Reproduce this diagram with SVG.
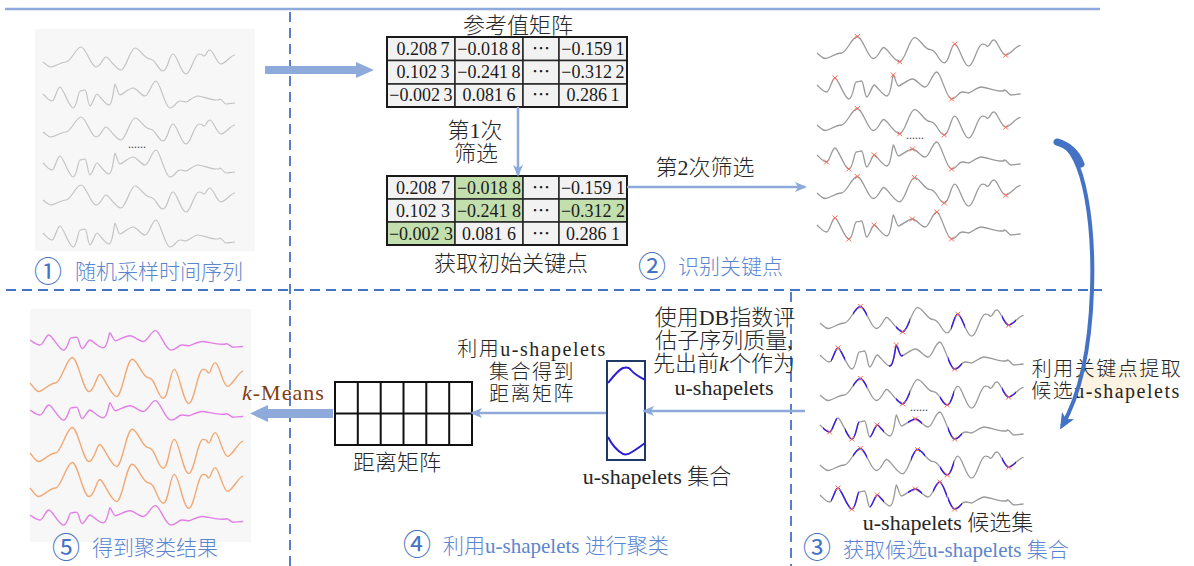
<svg xmlns="http://www.w3.org/2000/svg" xmlns:xlink="http://www.w3.org/1999/xlink" width="1194" height="566" viewBox="0 0 1194 566">
<style>
.t{font-family:"Liberation Serif","Noto Sans CJK SC",serif;fill:#262626;font-size:22px;font-weight:300}
.s{font-size:20px;letter-spacing:1.5px}
.c{text-anchor:middle}
.num{font-family:"Liberation Serif","Noto Sans CJK SC",serif;fill:#1a1a1a;font-size:18px;text-anchor:middle}
.bl{font-family:"Liberation Serif","Noto Sans CJK SC",serif;fill:#5a86d0;font-size:21px;font-weight:300}
.cn{font-family:"Noto Sans CJK SC","DejaVu Sans",sans-serif;fill:#4472c4;font-size:28px;text-anchor:middle}
.w1{fill:none;stroke:#c3c3c3;stroke-width:1.2}
.wg{fill:none;stroke:#9a9a9a;stroke-width:1.3}
.wp{fill:none;stroke:#3b1fe0;stroke-width:1.5}
.wv{fill:none;stroke:#e27fe6;stroke-width:1.4}
.wo{fill:none;stroke:#f2a874;stroke-width:1.4}
.mk{fill:none;stroke:#ff6a55;stroke-width:1}
.dash{fill:none;stroke:#4472c4;stroke-width:1.8;stroke-dasharray:10 6}
.ar{fill:none;stroke:#8eaadb;stroke-width:2.5;marker-end:url(#ah)}
.cell{fill:#f2f2f2;stroke:#262626;stroke-width:1.5}
.gr{fill:#c3dfae;stroke:#262626;stroke-width:1.5}
.dots{font-family:"Liberation Serif",serif;font-size:12px;fill:#444}
</style>
<defs>
<path id="wA" vector-effect="non-scaling-stroke" d="M0,0 C4,3 5,5 8,5 S18,0 23,0 S33,-15 38,-15 S48,5 53,5 S60,-5 63,-5 S73,8 78,8 S87,-14 92,-14 S101,-3 107,-3 S115,9 120,9 S126,-8 130,-8 S138,12 143,12 S151,-8 156,-8 S159,-6 161,-6 S164,-12 167,-12 S174,2 178,2 S188,-7 192,-7"/>
<path id="wB" vector-effect="non-scaling-stroke" d="M0,0 C3,3 6,7 9,7 S14,-7 17,-7 S26,14 30,14 S35,-3 37,-3 S40,-4 42,-4 S45,12 47,12 S52,0 54,0 S62,11 66,11 S71,-10 72,-10 S75,1 77,1 S86,-6 90,-6 S98,2 102,2 S109,-13 113,-13 S122,14 127,14 S133,7 137,7 S141,8 143,8 S151,2 155,2 S167,6 173,6 S175,5 177,5 S181,10 183,10 S189,9 192,9"/>
<path id="xm" d="M-2.5,-2.5L2.5,2.5M-2.5,2.5L2.5,-2.5"/>
<marker id="ah" markerWidth="12" markerHeight="10" refX="10" refY="5" orient="auto" markerUnits="userSpaceOnUse">
<path d="M0,0 L12,5 L0,10 L3,5 z" fill="#8eaadb"/>
</marker>
<marker id="ah2" markerWidth="16" markerHeight="14" refX="12" refY="7" orient="auto" markerUnits="userSpaceOnUse">
<path d="M0,0 L16,7 L0,14 L4,7 z" fill="#4472c4"/>
</marker>
<clipPath id="p1"><rect x="853" y="300" width="14" height="48"/><rect x="896" y="300" width="14" height="48"/><rect x="951" y="300" width="14" height="48"/><rect x="1002" y="300" width="14" height="48"/></clipPath>
<clipPath id="p2"><rect x="831" y="332" width="14" height="48"/><rect x="889" y="332" width="14" height="48"/><rect x="948" y="332" width="14" height="48"/></clipPath>
<clipPath id="p3"><rect x="853" y="372" width="14" height="48"/><rect x="896" y="372" width="14" height="48"/><rect x="940" y="372" width="14" height="48"/><rect x="1002" y="372" width="14" height="48"/></clipPath>
<clipPath id="p4"><rect x="823" y="402" width="14" height="48"/><rect x="845" y="402" width="14" height="48"/><rect x="870" y="402" width="14" height="48"/><rect x="908" y="402" width="14" height="48"/><rect x="948" y="402" width="14" height="48"/></clipPath>
<clipPath id="p5"><rect x="853" y="442" width="14" height="48"/><rect x="911" y="442" width="14" height="48"/><rect x="940" y="442" width="14" height="48"/><rect x="1002" y="442" width="14" height="48"/></clipPath>
<clipPath id="p6"><rect x="831" y="472" width="14" height="48"/><rect x="845" y="472" width="14" height="48"/><rect x="870" y="472" width="14" height="48"/><rect x="908" y="472" width="14" height="48"/><rect x="933" y="472" width="14" height="48"/><rect x="948" y="472" width="14" height="48"/></clipPath>
</defs>

<rect width="1194" height="566" fill="#ffffff"/>

<g id="frame">
<line x1="5" y1="9" x2="1100" y2="9" stroke="#8eaadb" stroke-width="2.5"/>
<line class="dash" x1="290" y1="12" x2="290" y2="566"/>
<line class="dash" x1="6" y1="290" x2="1102" y2="290"/>
<line class="dash" x1="791" y1="292" x2="791" y2="566"/>
</g>

<g id="panel1">
<rect x="35" y="29" width="220" height="222" fill="#f7f7f7"/>
<use href="#wA" class="w1" transform="translate(43,62)"/>
<use href="#wB" class="w1" transform="translate(43,94)"/>
<use href="#wA" class="w1" transform="translate(43,132)"/>
<use href="#wB" class="w1" transform="translate(43,163)"/>
<use href="#wA" class="w1" transform="translate(43,200)"/>
<use href="#wB" class="w1" transform="translate(43,233)"/>
<text class="dots" x="128" y="148">......</text>
<text class="cn" x="48" y="282">①</text>
<text class="bl" x="75" y="279">随机采样时间序列</text>
</g>

<g id="matrix1">
<text class="t c" x="518" y="33">参考值矩阵</text>
<rect class="cell" x="387" y="37" width="68" height="23.5"/><rect class="cell" x="455" y="37" width="68" height="23.5"/><rect class="cell" x="523" y="37" width="36" height="23.5"/><rect class="cell" x="559" y="37" width="68" height="23.5"/>
<rect class="cell" x="387" y="60.5" width="68" height="23.5"/><rect class="cell" x="455" y="60.5" width="68" height="23.5"/><rect class="cell" x="523" y="60.5" width="36" height="23.5"/><rect class="cell" x="559" y="60.5" width="68" height="23.5"/>
<rect class="cell" x="387" y="84" width="68" height="23" /><rect class="cell" x="455" y="84" width="68" height="23"/><rect class="cell" x="523" y="84" width="36" height="23"/><rect class="cell" x="559" y="84" width="68" height="23"/>
<rect x="387" y="37" width="240" height="70" fill="none" stroke="#1a1a1a" stroke-width="2"/>
<text class="num" x="423" y="55">0.208&#8201;7</text><text class="num" x="489" y="55">−0.018&#8201;8</text><text class="num" x="541" y="55">⋯</text><text class="num" x="593" y="55">−0.159&#8201;1</text>
<text class="num" x="423" y="78">0.102&#8201;3</text><text class="num" x="489" y="78">−0.241&#8201;8</text><text class="num" x="541" y="78">⋯</text><text class="num" x="593" y="78">−0.312&#8201;2</text>
<text class="num" x="421" y="101">−0.002&#8201;3</text><text class="num" x="489" y="101">0.081&#8201;6</text><text class="num" x="541" y="101">⋯</text><text class="num" x="593" y="101">0.286&#8201;1</text>
</g>

<g id="matrix2">
<rect class="cell" x="387" y="176" width="68" height="23"/><rect class="gr" x="455" y="176" width="68" height="23"/><rect class="cell" x="523" y="176" width="36" height="23"/><rect class="cell" x="559" y="176" width="68" height="23"/>
<rect class="cell" x="387" y="199" width="68" height="23"/><rect class="gr" x="455" y="199" width="68" height="23"/><rect class="cell" x="523" y="199" width="36" height="23"/><rect class="gr" x="559" y="199" width="68" height="23"/>
<rect class="gr" x="387" y="222" width="68" height="23"/><rect class="cell" x="455" y="222" width="68" height="23"/><rect class="cell" x="523" y="222" width="36" height="23"/><rect class="cell" x="559" y="222" width="68" height="23"/>
<rect x="387" y="176" width="240" height="69" fill="none" stroke="#1a1a1a" stroke-width="2"/>
<text class="num" x="423" y="194">0.208 7</text><text class="num" x="489" y="194">−0.018 8</text><text class="num" x="541" y="194">⋯</text><text class="num" x="593" y="194">−0.159 1</text>
<text class="num" x="423" y="217">0.102 3</text><text class="num" x="489" y="217">−0.241 8</text><text class="num" x="541" y="217">⋯</text><text class="num" x="593" y="217">−0.312 2</text>
<text class="num" x="421" y="240">−0.002 3</text><text class="num" x="489" y="240">0.081 6</text><text class="num" x="541" y="240">⋯</text><text class="num" x="593" y="240">0.286 1</text>
<text class="t c" x="511" y="271">获取初始关键点</text>
</g>

<g id="panel2">
<use href="#wA" class="wg" transform="translate(817,53) scale(1.06,1.1)"/>
<use href="#wB" class="wg" transform="translate(817,85) scale(1.06,1)"/>
<use href="#wA" class="wg" transform="translate(817,125) scale(1.06,1.1)"/>
<use href="#wB" class="wg" transform="translate(817,155) scale(1.06,1)"/>
<use href="#wA" class="wg" transform="translate(817,193) scale(1.06,1.1)"/>
<use href="#wB" class="wg" transform="translate(817,225) scale(1.06,1)"/>
<g class="mk">
<use href="#xm" x="857.3" y="36.5"/><use href="#xm" x="899.7" y="61.8"/><use href="#xm" x="954.8" y="44.2"/><use href="#xm" x="1005.7" y="55.2"/>
<use href="#xm" x="835" y="78"/><use href="#xm" x="893.3" y="75"/><use href="#xm" x="951.6" y="99"/>
<use href="#xm" x="857.3" y="108.5"/><use href="#xm" x="899.7" y="133.8"/><use href="#xm" x="944.2" y="134.9"/><use href="#xm" x="1005.7" y="127.2"/>
<use href="#xm" x="826.5" y="162"/><use href="#xm" x="848.8" y="169"/><use href="#xm" x="874.2" y="155"/><use href="#xm" x="912.4" y="149"/><use href="#xm" x="951.6" y="169"/>
<use href="#xm" x="857.3" y="176.5"/><use href="#xm" x="914.5" y="177.6"/><use href="#xm" x="944.2" y="202.9"/><use href="#xm" x="1005.7" y="195.2"/>
<use href="#xm" x="835" y="218"/><use href="#xm" x="848.8" y="239"/><use href="#xm" x="874.2" y="225"/><use href="#xm" x="912.4" y="219"/><use href="#xm" x="936.8" y="212"/><use href="#xm" x="951.6" y="239"/>
</g>
<text class="dots" x="906" y="139">......</text>
<text class="cn" x="652" y="277">②</text>
<text class="bl" x="678" y="274">识别关键点</text>
</g>

<g id="panel3">
<use href="#wA" class="wg" transform="translate(820,323) scale(1.06,1.1)"/>
<use href="#wB" class="wg" transform="translate(820,355) scale(1.06,1)"/>
<use href="#wA" class="wg" transform="translate(820,395) scale(1.06,1.1)"/>
<use href="#wB" class="wg" transform="translate(820,425) scale(1.06,1)"/>
<use href="#wA" class="wg" transform="translate(820,465) scale(1.06,1.1)"/>
<use href="#wB" class="wg" transform="translate(820,495) scale(1.06,1)"/>
<g clip-path="url(#p1)"><use href="#wA" class="wp" transform="translate(820,323) scale(1.06,1.1)"/></g>
<g clip-path="url(#p2)"><use href="#wB" class="wp" transform="translate(820,355) scale(1.06,1)"/></g>
<g clip-path="url(#p3)"><use href="#wA" class="wp" transform="translate(820,395) scale(1.06,1.1)"/></g>
<g clip-path="url(#p4)"><use href="#wB" class="wp" transform="translate(820,425) scale(1.06,1)"/></g>
<g clip-path="url(#p5)"><use href="#wA" class="wp" transform="translate(820,465) scale(1.06,1.1)"/></g>
<g clip-path="url(#p6)"><use href="#wB" class="wp" transform="translate(820,495) scale(1.06,1)"/></g>
<g class="mk">
<use href="#xm" x="860.3" y="306.5"/><use href="#xm" x="902.7" y="331.8"/><use href="#xm" x="957.8" y="314.2"/><use href="#xm" x="1008.7" y="325.2"/>
<use href="#xm" x="838" y="348"/><use href="#xm" x="896.3" y="345"/><use href="#xm" x="954.6" y="369"/>
<use href="#xm" x="860.3" y="378.5"/><use href="#xm" x="902.7" y="403.8"/><use href="#xm" x="947.2" y="404.9"/><use href="#xm" x="1008.7" y="397.2"/>
<use href="#xm" x="829.5" y="432"/><use href="#xm" x="851.8" y="439"/><use href="#xm" x="877.2" y="425"/><use href="#xm" x="915.4" y="419"/><use href="#xm" x="954.6" y="439"/>
<use href="#xm" x="860.3" y="448.5"/><use href="#xm" x="917.5" y="449.6"/><use href="#xm" x="947.2" y="474.9"/><use href="#xm" x="1008.7" y="467.2"/>
<use href="#xm" x="838" y="488"/><use href="#xm" x="851.8" y="509"/><use href="#xm" x="877.2" y="495"/><use href="#xm" x="915.4" y="489"/><use href="#xm" x="939.8" y="482"/><use href="#xm" x="954.6" y="509"/>
</g>
<text class="dots" x="910" y="411">......</text>
<text class="t c" x="948" y="530">u-shapelets 候选集</text>
<text class="cn" x="817" y="558">③</text>
<text class="bl" x="843" y="557">获取候选u-shapelets 集合</text>
</g>

<g id="extract-label">
<rect x="1078" y="366" width="70" height="32" fill="#fdf3e3"/>
<text class="t s c" x="1107" y="376">利用关键点提取</text>
<text class="t s c" x="1106" y="398" letter-spacing="0.5">候选u-shapelets</text>
</g>

<g id="ushapelet-set">
<rect x="607" y="361" width="38" height="99" fill="#ffffff" stroke="#1f3864" stroke-width="2"/>
<path d="M608,383 C612,378 618,370 623,368 C626,367 629,367 631,370 C635,375 640,377 645,380" fill="none" stroke="#2b1fd0" stroke-width="2"/>
<path d="M608,437 C611,443 616,450 623,454 C626,455 629,454 632,452 C637,449 641,446 645,443" fill="none" stroke="#2b1fd0" stroke-width="2"/>
<text class="t c" x="657" y="484">u-shapelets 集合</text>
<text class="t c" x="725" y="325">使用DB指数评</text>
<text class="t c" x="724" y="348">估子序列质量,</text>
<text class="t c" x="724" y="371">先出前<tspan font-style="italic">k</tspan>个作为</text>
<text class="t c" x="724" y="395">u-shapelets</text>
</g>

<g id="dist-matrix">
<rect x="335" y="382" width="137" height="63" fill="#ffffff" stroke="#111" stroke-width="2"/>
<path d="M335,413.5H472M357.8,382V445M380.7,382V445M403.5,382V445M426.3,382V445M449.2,382V445" stroke="#111" stroke-width="2" fill="none"/>
<text class="t c" x="397" y="470">距离矩阵</text>
<text class="t s c" x="532" y="356" letter-spacing="0.5">利用u-shapelets</text>
<text class="t s c" x="532" y="379">集合得到</text>
<text class="t s c" x="532" y="401">距离矩阵</text>
</g>

<g id="panel5">
<rect x="30" y="309" width="221" height="233" fill="#f7f7f7"/>
<use href="#wB" class="wv" transform="translate(30,340) scale(1.11,0.72)"/>
<use href="#wA" class="wo" transform="translate(30,383) scale(1.11,1.7)"/>
<use href="#wB" class="wv" transform="translate(30,410) scale(1.11,0.72)"/>
<use href="#wA" class="wo" transform="translate(30,453) scale(1.11,1.7)"/>
<use href="#wA" class="wo" transform="translate(30,488) scale(1.11,1.7)"/>
<use href="#wB" class="wv" transform="translate(30,515) scale(1.11,0.72)"/>
<text class="cn" x="66" y="558">⑤</text>
<text class="bl" x="92" y="555">得到聚类结果</text>
</g>

<g id="step4-label">
<text class="cn" x="417" y="555">④</text>
<text class="bl" x="443" y="553">利用u-shapelets 进行聚类</text>
</g>

<g id="connectors">
<path d="M265,66 H356 V62 L374,70 L356,78 V74 H265 z" fill="#8eaadb"/>
<line class="ar" x1="518" y1="107" x2="518" y2="175"/>
<text class="t c" x="475" y="138">第1次</text>
<text class="t c" x="476" y="161">筛选</text>
<line class="ar" x1="627" y1="187" x2="805" y2="187"/>
<text class="t c" x="705" y="175">第2次筛选</text>
<line class="ar" x1="805" y1="411" x2="644" y2="411"/>
<line class="ar" x1="606" y1="413" x2="472" y2="413"/>
<path d="M333,409 H268 V405 L250,413.5 L268,422 V418 H333 z" fill="#8eaadb"/>
<text class="t" x="242" y="400" style="fill:#843c0c;font-weight:400" font-size="23" letter-spacing="1"><tspan font-style="italic">k</tspan>-Means</text>
<path d="M1058,142 C1086,152 1094,230 1092,290 C1090,350 1080,395 1062,426" fill="none" stroke="#4472c4" stroke-width="4" marker-end="url(#ah2)"/>
<path d="M1057,142 C1068,145 1076,152 1081,164" fill="none" stroke="#4472c4" stroke-width="7" stroke-linecap="round"/>
</g>
</svg>
